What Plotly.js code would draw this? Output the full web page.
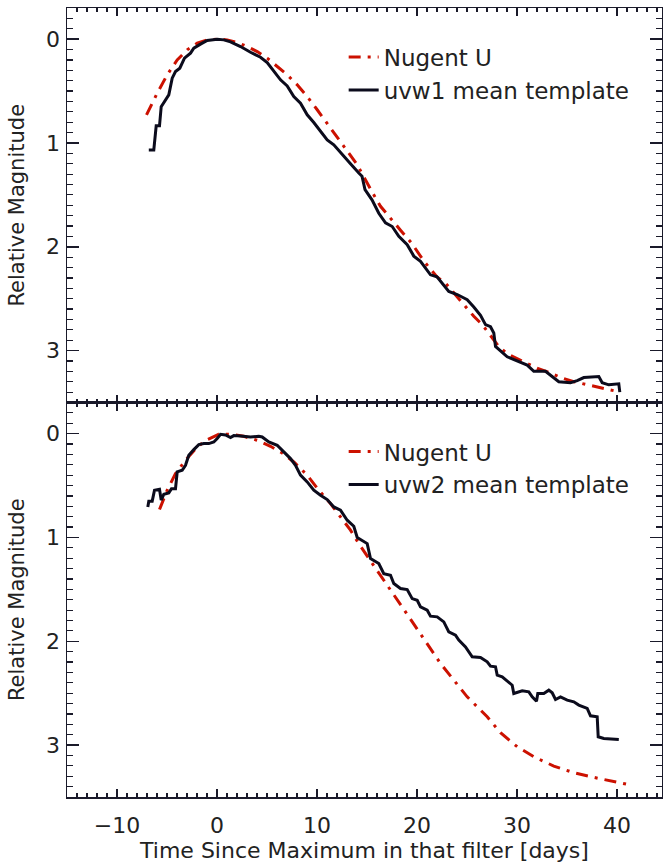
<!DOCTYPE html>
<html>
<head>
<meta charset="utf-8">
<script src="https://cdn.plot.ly/plotly-3.0.1.min.js"></script>
<style>html,body{margin:0;padding:0;background:#fff;}#plot{width:663px;height:867px;}</style>
</head>
<body>
<div id="plot"></div>
<script>
// ---- Data ----
// Top panel: uvw1 mean template
const uvw1Days = [-6.82,-6.32,-6.08,-5.75,-5.58,-5.15,-4.82,-4.48,-4.15,-3.72,-3.25,-2.65,-2.32,-1.65,-0.98,0.02,0.68,1.35,2.35,3.35,4.35,5.02,5.68,6.35,7.02,7.68,8.35,9.02,9.68,10.35,11.02,11.68,12.52,13.35,14.18,14.5,14.8,15.5,16.18,16.85,17.52,18.18,19.02,19.68,20.35,21.35,22.0,22.68,23.18,24.02,25.02,25.68,26.35,26.85,27.35,27.68,27.85,29.02,30.02,31.02,31.68,32.85,34.18,35.35,36.02,36.68,38.18,38.52,39.18,40.18,40.28];
const uvw1Mag  = [1.067,1.067,0.835,0.835,0.65,0.585,0.537,0.376,0.312,0.28,0.183,0.135,0.087,0.048,0.013,0.0,0.007,0.026,0.071,0.126,0.174,0.225,0.312,0.392,0.45,0.553,0.617,0.729,0.803,0.89,0.97,1.018,1.115,1.20,1.29,1.32,1.45,1.548,1.677,1.77,1.805,1.90,1.98,2.09,2.14,2.27,2.29,2.37,2.43,2.46,2.51,2.58,2.66,2.75,2.77,2.83,2.96,3.06,3.10,3.14,3.20,3.20,3.30,3.31,3.29,3.26,3.25,3.31,3.33,3.32,3.40];
// Top panel: Nugent U template
const nugentTopDays = [-7.05,-5.98,-4.98,-3.98,-2.98,-1.98,-0.98,0.02,1.02,2.02,3.02,4.02,5.02,6.02,7.02,8.02,9.02,10.02,11.02,12.02,13.02,14.02,15.56,16.35,18.35,19.5,20.7,22.0,22.85,23.85,24.85,25.68,26.52,27.35,28.18,29.02,29.85,31.0,32.0,33.18,34.68,35.68,36.68,37.68,38.68,39.85];
const nugentTopMag  = [0.729,0.52,0.344,0.2,0.103,0.039,0.007,0.0,0.007,0.033,0.071,0.12,0.183,0.264,0.344,0.44,0.553,0.68,0.81,0.94,1.073,1.21,1.48,1.61,1.84,1.97,2.14,2.29,2.35,2.46,2.58,2.67,2.75,2.85,2.96,3.03,3.07,3.12,3.17,3.21,3.27,3.30,3.32,3.34,3.36,3.39];
// Bottom panel: uvw2 mean template
const uvw2Days = [-6.92,-6.82,-6.48,-6.25,-5.75,-5.58,-5.32,-4.82,-4.55,-4.15,-3.98,-3.48,-3.15,-2.82,-2.32,-1.82,-1.32,-0.82,-0.32,0.02,0.35,0.85,1.35,1.68,2.35,3.35,4.18,4.52,5.18,6.02,6.68,7.35,7.85,8.35,9.02,9.68,10.35,11.02,11.68,12.35,13.02,13.68,14.02,15.02,15.35,16.18,16.68,17.35,17.68,18.35,19.02,19.52,20.02,20.35,21.02,21.35,22.02,22.68,23.18,23.85,24.18,24.85,25.52,26.35,27.02,27.35,27.85,28.02,28.52,29.18,29.52,29.68,30.52,31.18,31.52,31.95,32.08,32.68,33.18,33.52,33.85,34.35,35.02,35.68,36.18,37.02,37.35,38.02,38.12,38.68,40.18];
const uvw2Mag  = [0.706,0.65,0.65,0.545,0.536,0.64,0.584,0.571,0.53,0.53,0.369,0.353,0.305,0.209,0.154,0.106,0.096,0.096,0.08,0.048,0.006,0.013,0.038,0.019,0.022,0.032,0.026,0.032,0.08,0.112,0.176,0.24,0.305,0.40,0.465,0.545,0.594,0.635,0.706,0.738,0.834,0.892,1.0,1.059,1.203,1.251,1.348,1.364,1.444,1.492,1.502,1.589,1.605,1.669,1.701,1.758,1.765,1.813,1.91,1.941,1.989,2.054,2.15,2.156,2.198,2.24,2.246,2.326,2.342,2.40,2.423,2.503,2.477,2.487,2.535,2.577,2.503,2.503,2.471,2.496,2.561,2.535,2.567,2.583,2.615,2.647,2.718,2.727,2.92,2.936,2.946];
// Bottom panel: Nugent U template
const nugentBotDays = [-5.75,-4.98,-4.15,-3.15,-1.98,-0.98,0.18,1.35,2.68,4.02,5.35,6.52,7.68,9.02,10.18,11.35,12.35,13.35,14.18,15.35,17.02,18.85,20.68,22.35,23.68,25.02,27.02,28.35,30.02,31.68,33.68,35.68,37.68,39.68,41.02];
const nugentBotMag  = [0.731,0.545,0.385,0.257,0.128,0.058,0.006,0.006,0.026,0.064,0.122,0.186,0.273,0.40,0.545,0.674,0.802,0.93,1.06,1.22,1.46,1.717,1.974,2.214,2.374,2.535,2.727,2.881,3.016,3.112,3.202,3.266,3.311,3.353,3.378];

const xTickVals = [-10,0,10,20,30,40];
const yTickVals = [0,1,2,3];

// ---- Styles ----
const RED = '#cc1100';
const BLK = '#0b0b1c';
const AX = '#1a1a2a';
const FONT = 'DejaVu Sans, sans-serif';
const dashdot = '12px,7px,3px,7px';

const traces = [
  {x: nugentTopDays, y: nugentTopMag, xaxis:'x2', yaxis:'y', mode:'lines', name:'Nugent U',
   line:{color:RED, width:3, dash:dashdot}, legend:'legend'},
  {x: uvw1Days, y: uvw1Mag, xaxis:'x2', yaxis:'y', mode:'lines', name:'uvw1 mean template',
   line:{color:BLK, width:3}, legend:'legend'},
  {x: nugentBotDays, y: nugentBotMag, xaxis:'x', yaxis:'y2', mode:'lines', name:'Nugent U',
   line:{color:RED, width:3, dash:dashdot}, legend:'legend2'},
  {x: uvw2Days, y: uvw2Mag, xaxis:'x', yaxis:'y2', mode:'lines', name:'uvw2 mean template',
   line:{color:BLK, width:3}, legend:'legend2'}
];

const xCommon = {
  range:[-15,44.5], tickvals:xTickVals, ticks:'inside', ticklen:8, tickwidth:1.5, tickcolor:AX,
  showline:true, linecolor:AX, linewidth:1.5, mirror:'ticks', showgrid:false, zeroline:false,
  minor:{dtick:1, ticks:'inside', ticklen:4, tickwidth:1.2, tickcolor:AX, showgrid:false},
  tickfont:{family:FONT, size:22, color:'#222'}, automargin:false
};
const yCommon = {
  range:[3.5,-0.3], tickvals:yTickVals, ticks:'inside', ticklen:12, tickwidth:1.5, tickcolor:AX,
  showline:true, linecolor:AX, linewidth:1.5, mirror:'ticks', showgrid:false, zeroline:false,
  minor:{dtick:0.1, ticks:'inside', ticklen:6, tickwidth:1.2, tickcolor:AX, showgrid:false},
  tickfont:{family:FONT, size:22, color:'#222'}, ticklabelstandoff:1, automargin:false,
  title:{text:'Relative Magnitude', font:{family:FONT, size:21, color:'#222'}, standoff:15}
};

const legendCommon = {
  x:0.465, xanchor:'left', yanchor:'top', bgcolor:'rgba(0,0,0,0)', borderwidth:0,
  font:{family:FONT, size:23, color:'#222'}, itemwidth:30, tracegroupgap:0
};

const layout = {
  width:663, height:867,
  margin:{l:67, r:1, t:8, b:70},
  paper_bgcolor:'#fff', plot_bgcolor:'#fff',
  showlegend:true,
  xaxis: Object.assign({}, xCommon, {anchor:'y2', showticklabels:true, ticklabelstandoff:8,
    title:{text:'Time Since Maximum in that filter [days]', font:{family:FONT, size:22, color:'#222'}, standoff:4}}),
  xaxis2: Object.assign({}, xCommon, {anchor:'y', matches:'x', showticklabels:false}),
  yaxis: Object.assign({}, yCommon, {domain:[0.5,1], anchor:'x2'}),
  yaxis2: Object.assign({}, yCommon, {domain:[0,0.5], anchor:'x'}),
  legend: Object.assign({}, legendCommon, {y:0.965}),
  legend2: Object.assign({}, legendCommon, {y:0.465})
};

Plotly.newPlot('plot', traces, layout, {displayModeBar:false, staticPlot:true});
</script>
</body>
</html>
